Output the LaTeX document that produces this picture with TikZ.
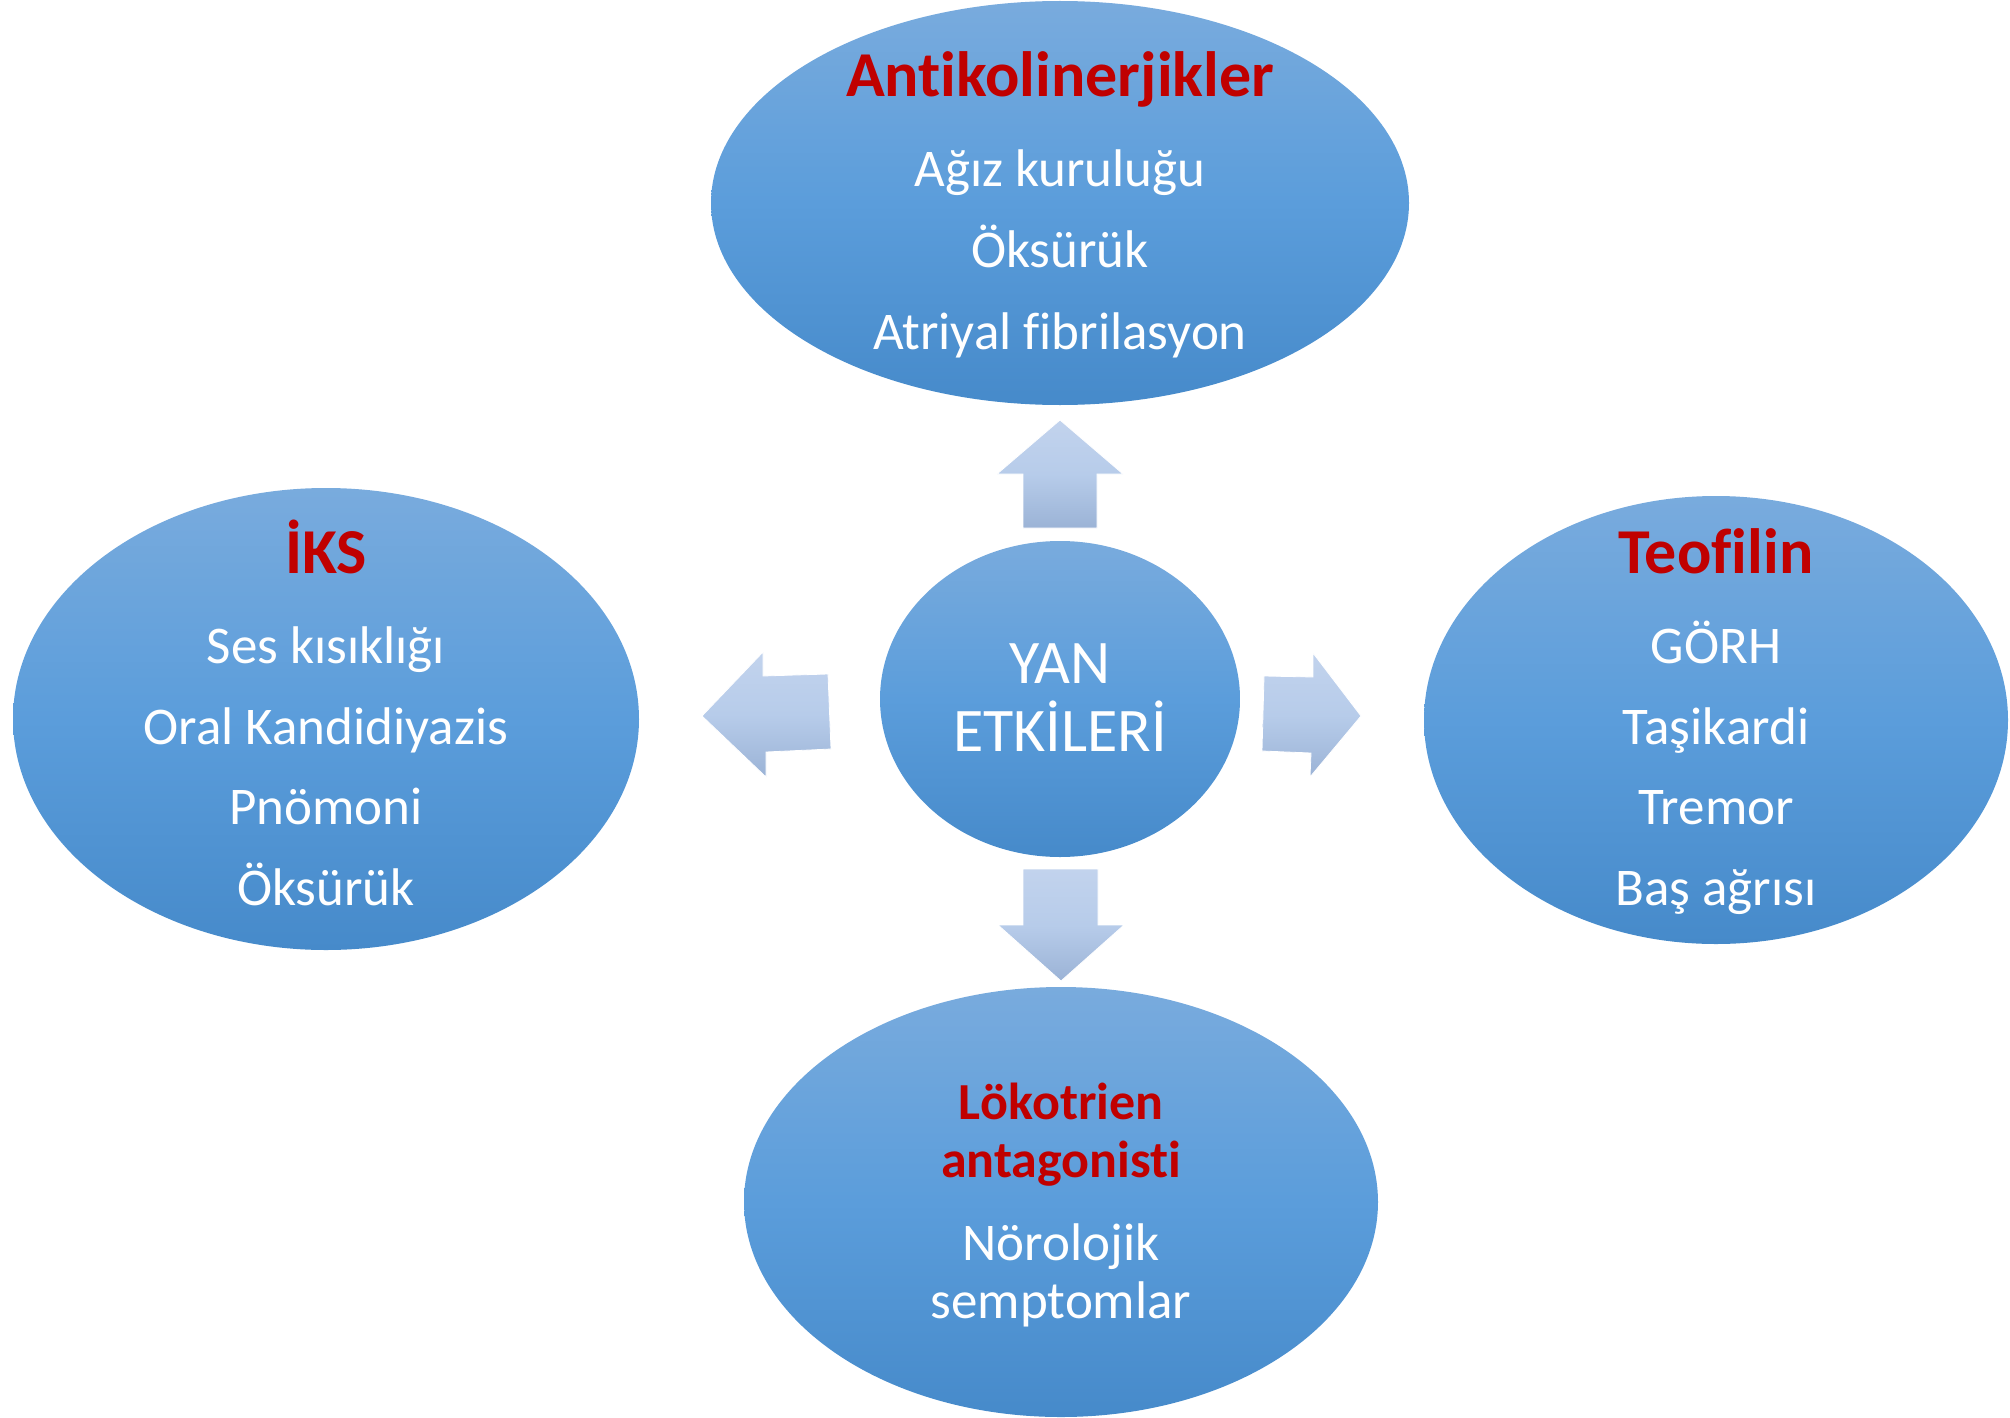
\documentclass[tikz,border=0pt]{standalone}
\usepackage{fontspec}
\setmainfont{Carlito}[RawFeature=-liga,RawFeature=-clig,RawFeature=-dlig]
\usetikzlibrary{shapes.geometric}
\definecolor{elTop}{RGB}{121,171,221}
\definecolor{elMid}{RGB}{91,157,219}
\definecolor{elBot}{RGB}{70,138,202}
\definecolor{arTop}{RGB}{194,211,237}
\definecolor{arMid}{RGB}{183,204,234}
\definecolor{arBot}{RGB}{155,179,214}
\definecolor{hred}{RGB}{192,0,0}
\tikzset{
 ell/.style={ellipse, inner sep=0pt, draw=none, top color=elTop, bottom color=elBot, middle color=elMid},
 barrow/.style={top color=arTop, bottom color=arBot, middle color=arMid, draw=white, line width=0.8pt, line join=miter},
 head/.style={text=hred, font=\bfseries\fontsize{64}{64}\selectfont, anchor=base, inner sep=0pt},
 subhead/.style={text=hred, font=\bfseries\fontsize{52}{52}\selectfont, anchor=base, inner sep=0pt},
 item/.style={text=white, font=\fontsize{53}{53}\selectfont, anchor=base, inner sep=0pt},
 central/.style={text=white, font=\fontsize{62}{62}\selectfont, anchor=base, inner sep=0pt},
}
\begin{document}
\begin{tikzpicture}[x=1pt,y=-1pt]
\useasboundingbox (0,0) rectangle (2010,1418);
% ellipses
\node[ell, minimum width=698pt, minimum height=404pt] (top) at (1060,203) {};
\node[ell, minimum width=626pt, minimum height=462pt] (left) at (326,719) {};
\node[ell, minimum width=584pt, minimum height=448pt] (right) at (1716,720) {};
\node[ell, minimum width=634pt, minimum height=430pt] (bottom) at (1061,1202) {};
\node[ell, minimum width=360pt, minimum height=316pt] (center) at (1060,699) {};
% block arrows
\path[barrow] (1060,420) -- (1123,474) -- (1097,474) -- (1097,528) -- (1023,528) -- (1023,474) -- (997,474) -- cycle;
\path[barrow] (1061,981) -- (1124,925) -- (1098,925) -- (1098,869) -- (1023,869) -- (1023,925) -- (998,925) -- cycle;
\path[barrow] (702,716) -- (763,652) -- (763,676) -- (828,674) -- (831,749) -- (766,752) -- (766,777) -- cycle;
\path[barrow] (1361,716) -- (1313,653) -- (1313,677) -- (1264,676) -- (1262,751) -- (1311,753) -- (1310,777) -- cycle;
% top texts
\node[head] (tH) at (1060,97) {Antikolinerjikler};
\node[item] (t1) at (1060,186) {Ağız kuruluğu};
\node[item] (t2) at (1060,267) {Öksürük};
\node[item] (t3) at (1060,349) {Atriyal fibrilasyon};
% left texts
\node[head] (lH) at (326,573) {İKS};
\node[item] (l1) at (326,663) {Ses kısıklığı};
\node[item] (l2) at (326,744) {Oral Kandidiyazis};
\node[item] (l3) at (326,824) {Pnömoni};
\node[item] (l4) at (326,905) {Öksürük};
% right texts
\node[head] (rH) at (1716,573) {Teofilin};
\node[item] (r1) at (1716,663) {GÖRH};
\node[item] (r2) at (1716,744) {Taşikardi};
\node[item] (r3) at (1716,824) {Tremor};
\node[item] (r4) at (1716,905) {Baş ağrısı};
% bottom texts
\node[subhead] (bH1) at (1061,1119) {Lökotrien};
\node[subhead] (bH2) at (1061,1177) {antagonisti};
\node[item] (b1) at (1061,1260) {Nörolojik};
\node[item] (b2) at (1061,1318) {semptomlar};
% center texts
\node[central] (c1) at (1060,683) {YAN};
\node[central] (c2) at (1060,751) {ETKİLERİ};
\end{tikzpicture}
\end{document}
